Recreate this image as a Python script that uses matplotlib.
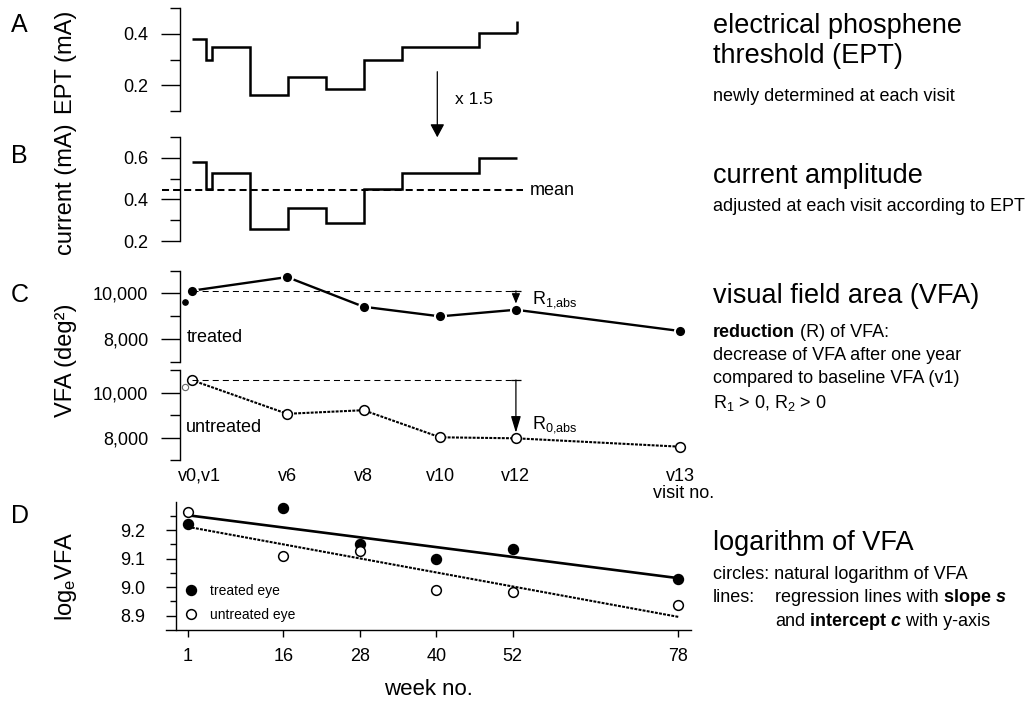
import numpy as np
import matplotlib
matplotlib.use('Agg')
import matplotlib.pyplot as plt
from matplotlib.ticker import FixedLocator, StrMethodFormatter
from matplotlib.patches import FancyArrowPatch
from matplotlib.transforms import ScaledTranslation

plt.rcParams['font.family'] = ['Liberation Sans', 'DejaVu Sans']
plt.rcParams['mathtext.fontset'] = 'custom'
plt.rcParams['mathtext.rm'] = 'Liberation Sans'
plt.rcParams['mathtext.it'] = 'Liberation Sans:italic'
plt.rcParams['mathtext.bf'] = 'Liberation Sans:bold'

# --- data ---
# A/B: stepwise EPT and stimulation current, week edges of each visit interval
step_edges = [1.7, 3.9, 4.8, 10.8, 16.7, 22.7, 28.7, 34.7, 46.7, 52.7]
ept = [0.382, 0.300, 0.349, 0.164, 0.234, 0.185, 0.300, 0.350, 0.402]
ept_next = 0.452
current = [0.580, 0.450, 0.527, 0.256, 0.360, 0.287, 0.452, 0.527, 0.600]
current_mean = 0.445

# C: visual field area per visit (v0, v1, v6, v8, v10, v12, v13)
visit_week = [0.6, 1.6, 16.6, 28.6, 40.6, 52.5, 78.3]
visit_labels = ['v0,v1', 'v6', 'v8', 'v10', 'v12', 'v13']
vfa_treated = [9606, 10114, 10713, 9414, 8993, 9282, 8350]
vfa_untreated = [10267, 10564, 9062, 9222, 8018, 7973, 7600]

# D: natural log of VFA per week
weeks = [1, 16, 28, 40, 52, 78]
log_treated = [9.223, 9.279, 9.151, 9.100, 9.134, 9.029]
log_untreated = [9.264, 9.110, 9.127, 8.991, 8.984, 8.938]

W, H = 1031, 702
X0, PXW = 187.7, 6.373   # pixel of week 1, pixels per week

fig = plt.figure(figsize=(W / 100, H / 100), dpi=100)
renderer = fig.canvas.get_renderer()


def fy(py):
    return 1 - py / H


def week_at(px):
    return 1 + (px - X0) / PXW


def add_ax(l, t, r, b):
    ax = fig.add_axes([l / W, 1 - b / H, (r - l) / W, (b - t) / H])
    ax.set_xlim(week_at(l), week_at(r))
    ax.set_facecolor('none')
    for s in ['top', 'right', 'bottom']:
        ax.spines[s].set_visible(False)
    ax.spines['left'].set_linewidth(1.0)
    return ax


def y_ticks(ax, major, minor, fmt, big=True):
    ax.yaxis.set_major_locator(FixedLocator(major))
    ax.yaxis.set_minor_locator(FixedLocator(minor))
    ax.yaxis.set_major_formatter(StrMethodFormatter(fmt))
    if big:
        ax.tick_params(axis='y', which='major', length=13.7, width=1, pad=9, labelsize=13)
        ax.tick_params(axis='y', which='minor', length=7.2, width=1)
    else:
        ax.tick_params(axis='y', which='major', length=7.2, width=1, pad=15, labelsize=13)
        ax.tick_params(axis='y', which='minor', length=4.3, width=1)


def arrow_fig(x, y0, y1, hl, hw, lw=0.8):
    a = FancyArrowPatch((x / W, fy(y0)), (x / W, fy(y1)), transform=fig.transFigure,
                        arrowstyle='-|>,head_length=%s,head_width=%s' % (hl, hw),
                        mutation_scale=10, color='k', lw=lw, shrinkA=0, shrinkB=0)
    fig.add_artist(a)


def seg_text(x, y, segments, size=13):
    for s, weight, style in segments:
        t = fig.text(x / W, fy(y), s, fontsize=size, fontweight=weight,
                     fontstyle=style, ha='left', va='baseline')
        x = t.get_window_extent(renderer).x1


# --- A: EPT ---
ax_a = add_ax(180, 8.3, 691, 111)
ax_a.set_ylim(0.1, 0.5)
ax_a.set_xticks([])
y_ticks(ax_a, [0.2, 0.4], [0.1, 0.3, 0.5], '{x:.1f}')
ax_a.stairs(ept, step_edges, baseline=None, color='k', lw=1.8)
ax_a.vlines(step_edges[-1], ept[-1], ept_next, color='k', lw=1.8)

# --- B: current ---
ax_b = add_ax(180, 137, 691, 241)
ax_b.set_ylim(0.2, 0.7)
ax_b.set_xticks([])
y_ticks(ax_b, [0.2, 0.4, 0.6], [0.3, 0.5, 0.7], '{x:.1f}')
ax_b.stairs(current, step_edges, baseline=None, color='k', lw=1.8)
ax_b.axhline(current_mean, xmin=(161.7 - 180) / 511, xmax=(523 - 180) / 511,
             color='k', lw=1.45, ls=(0, (3.5, 2)), clip_on=False)
ax_b.annotate('mean', xy=(week_at(530), current_mean), ha='left', va='center', fontsize=13)

arrow_fig(437.3, 71.7, 137.3, 0.8, 0.43, lw=0.9)
fig.text(455 / W, fy(99), 'x 1.5', ha='left', va='center', fontsize=12.5)

# --- C: VFA treated / untreated ---
ax_c1 = add_ax(180, 270.5, 691, 361.9)
ax_c2 = add_ax(180, 370.2, 691, 460.2)
for ax in (ax_c1, ax_c2):
    ax.set_ylim(7000, 11000)
    y_ticks(ax, [8000, 10000], [7000, 9000, 11000], '{x:,.0f}')
ax_c1.set_xticks([])

ax_c1.plot(visit_week[0], vfa_treated[0], 'o', ms=3.8, color='k')
ax_c1.plot(visit_week[1:], vfa_treated[1:], '-o', color='k', lw=1.7,
           ms=8, mfc='k', mec='white', mew=1.4)
ax_c1.plot([visit_week[1], visit_week[5]], [vfa_treated[1]] * 2, color='k',
           lw=0.75, ls=(0, (5.8, 3.9)))
ax_c1.plot(visit_week[5], vfa_treated[1], marker='_', ms=7, mew=0.9, color='k')
ax_c1.annotate('', xy=(visit_week[5], vfa_treated[5]), xytext=(visit_week[5], vfa_treated[1]),
               arrowprops=dict(arrowstyle='-|>,head_length=0.6,head_width=0.25',
                               mutation_scale=10, color='k', lw=0.8, shrinkA=0, shrinkB=4.5))
ax_c1.annotate(r'R$_{\mathrm{1{,}abs}}$', xy=(visit_week[5], vfa_treated[1]),
               xytext=(16, -13), textcoords='offset pixels', ha='left', va='baseline', fontsize=13)

ax_c2.plot(visit_week[0], vfa_untreated[0], 'o', ms=4.5, mfc='white', mec='#666666', mew=0.8)
ax_c2.plot(visit_week[1:], vfa_untreated[1:], color='k', lw=1.5, ls=(0, (1.4, 0.6)),
           marker='o', ms=7, mfc='white', mec='k', mew=1.1)
ax_c2.plot([visit_week[1], visit_week[5]], [vfa_untreated[1]] * 2, color='k',
           lw=0.75, ls=(0, (5.8, 3.9)))
ax_c2.plot(visit_week[5], vfa_untreated[1], marker='_', ms=7, mew=0.9, color='k')
ax_c2.annotate('', xy=(visit_week[5], vfa_untreated[5]), xytext=(visit_week[5], vfa_untreated[1]),
               arrowprops=dict(arrowstyle='-|>,head_length=1.0,head_width=0.3',
                               mutation_scale=10, color='k', lw=0.9, shrinkA=0, shrinkB=4))
ax_c2.annotate(r'R$_{\mathrm{0{,}abs}}$', xy=(visit_week[5], vfa_untreated[5]),
               xytext=(16, 10), textcoords='offset pixels', ha='left', va='baseline', fontsize=13)

ax_c2.set_xticks(visit_week[1:], visit_labels)
ax_c2.tick_params(axis='x', length=0, pad=5.5, labelsize=13)
lbl = ax_c2.get_xticklabels()[0]
lbl.set_transform(lbl.get_transform() + ScaledTranslation(0.08, 0, fig.dpi_scale_trans))
ax_c2.annotate('visit no.', xy=(visit_week[-1], 0), xycoords=('data', 'axes fraction'),
               xytext=(3, -33), textcoords='offset pixels', ha='center', va='center', fontsize=13)

fig.text(187 / W, fy(337), 'treated', ha='left', va='center', fontsize=13)
fig.text(185.5 / W, fy(428), 'untreated', ha='left', va='center', fontsize=13)

# --- D: log VFA with regression lines ---
ax_d = add_ax(166, 501.7, 691, 630)
ax_d.spines['bottom'].set_visible(True)
ax_d.spines['bottom'].set_linewidth(1.0)
ax_d.spines['left'].set_position(('axes', 9.7 / 525))
ax_d.set_ylim(8.85, 9.30)
y_ticks(ax_d, [8.9, 9.0, 9.1, 9.2], [8.95, 9.05, 9.15, 9.25], '{x:.1f}', big=False)
ax_d.set_xticks(weeks)
ax_d.tick_params(axis='x', length=5, width=1, pad=8, labelsize=13)

xl = np.array([weeks[0], weeks[-1]], dtype=float)
s_t, c_t = np.polyfit(weeks, log_treated, 1)
s_u, c_u = np.polyfit(weeks, log_untreated, 1)
ax_d.plot(xl, c_t + s_t * xl, color='k', lw=1.9, zorder=2)
ax_d.plot(xl, c_u + s_u * xl, color='k', lw=1.5, ls=(0, (1.4, 0.6)), zorder=2)
ax_d.plot(weeks, log_treated, 'o', ms=7.2, color='k', zorder=3, label='treated eye')
ax_d.plot(weeks, log_untreated, 'o', ms=7, mfc='white', mec='k', mew=1.1, zorder=3,
          label='untreated eye')
ax_d.legend(loc='upper left', bbox_to_anchor=(184 / W, fy(584)), bbox_transform=fig.transFigure,
            frameon=False, fontsize=10, handlelength=1.0, handletextpad=0.86,
            labelspacing=0.7, borderpad=0, borderaxespad=0)
ax_d.set_xlabel('week no.', fontsize=16, labelpad=10)

# --- panel letters and y labels ---
for letter, yb in [('A', 32), ('B', 163), ('C', 302), ('D', 523)]:
    fig.text(11 / W, fy(yb), letter, ha='left', va='baseline', fontsize=18)
for lab, yc in [('EPT (mA)', 62), ('current (mA)', 189), ('VFA (deg²)', 360),
                (r'log$_\mathrm{e}$VFA', 576)]:
    fig.text(66 / W, fy(yc), lab, rotation=90, ha='center', va='center', fontsize=17)

# --- right-hand descriptions ---
TX = 712.7
for txt, yb in [('electrical phosphene', 33.3), ('threshold (EPT)', 63.3),
                ('current amplitude', 182.7), ('visual field area (VFA)', 303.3),
                ('logarithm of VFA', 550)]:
    fig.text(TX / W, fy(yb), txt, ha='left', va='baseline', fontsize=19.5)
for txt, yb in [('newly determined at each visit', 100.7),
                ('adjusted at each visit according to EPT', 211),
                ('decrease of VFA after one year', 360),
                ('compared to baseline VFA (v1)', 383.3),
                (r'R$_1$ > 0, R$_2$ > 0', 408.3),
                ('circles: natural logarithm of VFA', 579.3),
                ('lines:', 602.3)]:
    fig.text(TX / W, fy(yb), txt, ha='left', va='baseline', fontsize=13)
seg_text(TX, 337.3, [('reduction', 'bold', 'normal'), (' (R) of VFA:', 'normal', 'normal')])
seg_text(775, 602.3, [('regression lines with', 'normal', 'normal'),
                      (' slope', 'bold', 'normal'), (' s', 'bold', 'italic')])
seg_text(775, 625.7, [('and', 'normal', 'normal'), (' intercept', 'bold', 'normal'),
                      (' c', 'bold', 'italic'), (' with y-axis', 'normal', 'normal')])

fig.savefig('out.png', dpi=100)
